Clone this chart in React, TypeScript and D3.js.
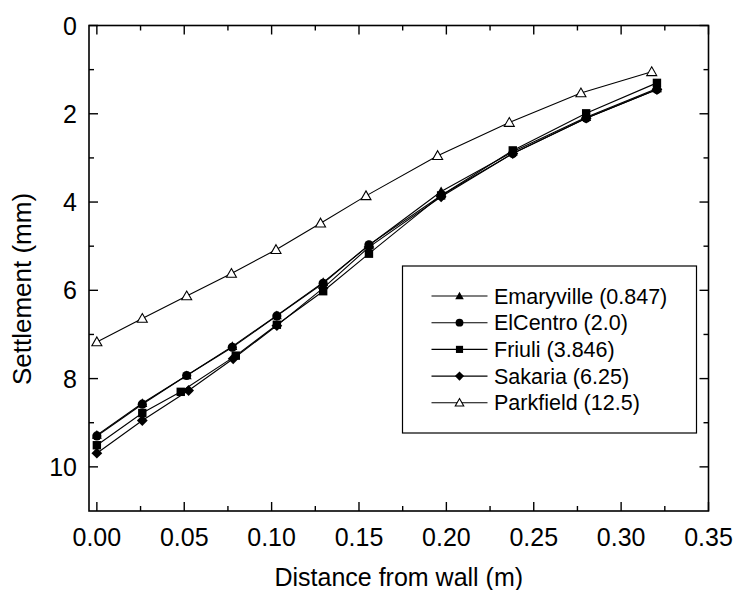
import React from "react";
import * as d3 from "d3";

const xParkfield = [0, 0.026, 0.0514, 0.077, 0.1025, 0.128, 0.154, 0.195, 0.236, 0.277, 0.3175];
const xMain = [0, 0.026, 0.0514, 0.0775, 0.103, 0.1295, 0.1557, 0.197, 0.238, 0.28, 0.3205];
const xFriuli = [0, 0.026, 0.048, 0.0795, 0.103, 0.1295, 0.1557, 0.197, 0.238, 0.28, 0.3205];
const xSakaria = [0, 0.026, 0.0525, 0.078, 0.103, 0.1295, 0.1557, 0.197, 0.238, 0.28, 0.3205];

const emaryville = [9.28, 8.56, 7.93, 7.27, 6.57, 5.82, 4.98, 3.76, 2.86, 2.08, 1.43];
const elCentro = [9.3, 8.58, 7.93, 7.29, 6.58, 5.84, 4.97, 3.85, 2.9, 2.1, 1.45];
const friuli = [9.51, 8.78, 8.3, 7.48, 6.78, 6.02, 5.17, 3.85, 2.83, 1.99, 1.3];
const sakaria = [9.69, 8.95, 8.27, 7.55, 6.8, 5.95, 5.02, 3.88, 2.9, 2.1, 1.45];
const parkfield = [7.17, 6.64, 6.13, 5.62, 5.08, 4.48, 3.86, 2.95, 2.2, 1.53, 1.05];

const seriesNames = ["Emaryville (0.847)", "ElCentro (2.0)", "Friuli (3.846)", "Sakaria (6.25)", "Parkfield (12.5)"];
const seriesMarkers = ["triangle", "circle", "square", "diamond", "openTriangle"];

const xTicks = [0, 0.05, 0.1, 0.15, 0.2, 0.25, 0.3, 0.35];
const xMinor = [0.025, 0.075, 0.125, 0.175, 0.225, 0.275, 0.325];
const yTicks = [0, 2, 4, 6, 8, 10];
const yMinor = [1, 3, 5, 7, 9];

const W = 736, H = 590;
const L = 89, R = 708.5, T = 25.5, B = 511;
const FONT = "'Liberation Sans', Arial, Helvetica, sans-serif";

function Marker({ type, x, y, k = 1 }: { type: string; x: number; y: number; k?: number }) {
  if (type === "circle") return <circle cx={x} cy={y} r={4.6 * k} fill="#000" />;
  if (type === "square") return <rect x={x - 4.2 * k} y={y - 4.2 * k} width={8.4 * k} height={8.4 * k} fill="#000" />;
  if (type === "diamond") {
    const s = 5.4 * k;
    return <path d={`M${x},${y - s}L${x + s},${y}L${x},${y + s}L${x - s},${y}Z`} fill="#000" />;
  }
  const s = 5 * k;
  const p = `M${x},${y - s}L${x + s},${y + s * 0.75}L${x - s},${y + s * 0.75}Z`;
  if (type === "openTriangle") return <path d={p} fill="#fff" stroke="#000" strokeWidth={1.1} />;
  return <path d={p} fill="#000" />;
}

export default function App() {
  const x = d3.scaleLinear().domain([-0.0045, 0.35]).range([L, R]);
  const y = d3.scaleLinear().domain([0, 11]).range([T, B]);
  const series = [
    { xs: xMain, ys: emaryville },
    { xs: xMain, ys: elCentro },
    { xs: xFriuli, ys: friuli },
    { xs: xSakaria, ys: sakaria },
    { xs: xParkfield, ys: parkfield },
  ];
  const line = d3.line<[number, number]>().x((d) => x(d[0])).y((d) => y(d[1]));
  const fmt = d3.format(".2f");

  const legX = 402.5, legY = 266, legW = 294, legH = 167;
  const rowY0 = 296, rowDy = 26.7;

  return (
    <svg width={W} height={H} style={{ position: "absolute", left: 0, top: 0, background: "#fff" }} fontFamily={FONT}>
      <rect x={0} y={0} width={W} height={H} fill="#fff" />
      {series.map((s, i) => (
        <path key={"l" + i} d={line(s.xs.map((v, j) => [v, s.ys[j]]) as [number, number][]) || ""} fill="none" stroke="#000" strokeWidth={1.1} />
      ))}
      {series.map((s, i) =>
        s.xs.map((v, j) => <Marker key={`m${i}-${j}`} type={seriesMarkers[i]} x={x(v)} y={y(s.ys[j])} />)
      )}
      {xTicks.map((t) => (
        <g key={"xt" + t}>
          <line x1={x(t)} x2={x(t)} y1={B} y2={B - 9} stroke="#000" strokeWidth={1.4} />
          <line x1={x(t)} x2={x(t)} y1={T} y2={T + 9} stroke="#000" strokeWidth={1.4} />
          <text x={x(t)} y={B + 35} textAnchor="middle" fontSize={25}>{fmt(t)}</text>
        </g>
      ))}
      {xMinor.map((t) => (
        <g key={"xm" + t}>
          <line x1={x(t)} x2={x(t)} y1={B} y2={B - 5} stroke="#000" strokeWidth={1.4} />
          <line x1={x(t)} x2={x(t)} y1={T} y2={T + 5} stroke="#000" strokeWidth={1.4} />
        </g>
      ))}
      {yTicks.map((t) => (
        <g key={"yt" + t}>
          <line x1={L} x2={L + 9} y1={y(t)} y2={y(t)} stroke="#000" strokeWidth={1.4} />
          <line x1={R} x2={R - 9} y1={y(t)} y2={y(t)} stroke="#000" strokeWidth={1.4} />
          <text x={77} y={y(t) + 9} textAnchor="end" fontSize={25}>{t}</text>
        </g>
      ))}
      {yMinor.map((t) => (
        <g key={"ym" + t}>
          <line x1={L} x2={L + 5} y1={y(t)} y2={y(t)} stroke="#000" strokeWidth={1.4} />
          <line x1={R} x2={R - 5} y1={y(t)} y2={y(t)} stroke="#000" strokeWidth={1.4} />
        </g>
      ))}
      <rect x={L} y={T} width={R - L} height={B - T} fill="none" stroke="#000" strokeWidth={1.6} />
      <rect x={legX} y={legY} width={legW} height={legH} fill="#fff" stroke="#000" strokeWidth={1.2} />
      {seriesNames.map((n, i) => (
        <g key={"lg" + i}>
          <line x1={431.5} x2={487.5} y1={rowY0 + i * rowDy} y2={rowY0 + i * rowDy} stroke="#000" strokeWidth={1.1} />
          <Marker type={seriesMarkers[i]} x={459.5} y={rowY0 + i * rowDy} k={0.85} />
          <text x={494} y={rowY0 + i * rowDy + 7.5} fontSize={21.5}>{n}</text>
        </g>
      ))}
      <text x={(L + R) / 2} y={586} textAnchor="middle" fontSize={25}>Distance from wall (m)</text>
      <text transform={`translate(31, 289) rotate(-90)`} textAnchor="middle" fontSize={26}>Settlement (mm)</text>
    </svg>
  );
}
